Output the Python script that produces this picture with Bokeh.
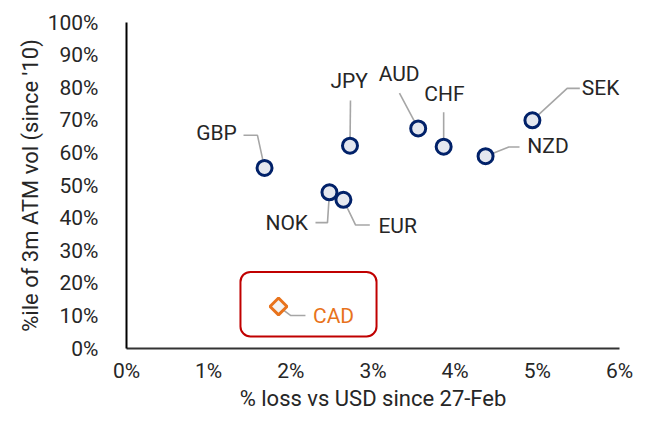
import math
from bokeh.plotting import figure
from bokeh.models import (Range1d, FixedTicker, PrintfTickFormatter, BoxAnnotation,
                          ColumnDataSource, LabelSet)
from bokeh.core.properties import value
from bokeh.embed import file_html
from bokeh.resources import INLINE

# ---- data (percent units) ----
currencies = ["GBP", "JPY", "AUD", "CHF", "NZD", "SEK", "NOK", "EUR"]
loss_pct = [1.68, 2.72, 3.55, 3.86, 4.37, 4.94, 2.47, 2.64]
vol_pctile = [55.4, 62.2, 67.5, 61.9, 59.0, 70.0, 47.9, 45.6]

highlight = ["CAD"]
hl_loss = [1.85]
hl_vol = [12.9]

x_ticks = [0, 1, 2, 3, 4, 5, 6]
y_ticks = [0, 10, 20, 30, 40, 50, 60, 70, 80, 90, 100]

# ---- label placement (data units): text centre, leader elbow, leader end ----
label_pos = {
    "GBP": (1.095, 66.1, 1.594, 65.4, 1.424, 65.4),
    "JPY": (2.71, 82.0, 2.726, 76.1, 2.726, 76.1),
    "AUD": (3.318, 84.1, 3.322, 78.3, 3.322, 78.3),
    "CHF": (3.87, 78.1, 3.86, 72.5, 3.86, 72.5),
    "NZD": (5.13, 62.1, 4.653, 61.8, 4.783, 61.8),
    "SEK": (5.77, 79.8, 5.363, 79.8, 5.517, 79.8),
    "NOK": (1.95, 38.5, 2.446, 38.6, 2.30, 38.6),
    "EUR": (3.30, 37.6, 2.787, 37.9, 2.961, 37.9),
    "CAD": (2.52, 10.1, 2.00, 10.1, 2.178, 10.1),
}

FONT = "Roboto"
TXT = "#262626"
NAVY = "#012169"
ORANGE = "#E8731C"
LEAD = "#A6A6A6"

p = figure(width=633, height=413, output_backend="svg", toolbar_location=None,
           x_range=Range1d(0, 6), y_range=Range1d(0, 100),
           min_border_left=126, min_border_right=14, min_border_top=22, min_border_bottom=64)
p.outline_line_color = None
p.grid.visible = False
p.background_fill_color = "white"
p.border_fill_color = "white"

for ax in (p.xaxis[0], p.yaxis[0]):
    ax.major_tick_line_color = None
    ax.minor_tick_line_color = None
    ax.axis_line_width = 2
    ax.major_label_text_font = FONT
    ax.major_label_text_font_size = "21px"
    ax.major_label_text_color = TXT
    ax.axis_label_text_font = FONT
    ax.axis_label_text_font_size = "22px"
    ax.axis_label_text_font_style = "normal"
    ax.axis_label_text_color = TXT

p.yaxis[0].axis_line_color = "#000000"
p.xaxis[0].axis_line_color = "#333333"
p.xaxis[0].ticker = FixedTicker(ticks=x_ticks)
p.yaxis[0].ticker = FixedTicker(ticks=y_ticks)
p.xaxis[0].formatter = PrintfTickFormatter(format="%d%%")
p.yaxis[0].formatter = PrintfTickFormatter(format="%d%%")
p.xaxis[0].axis_label = "% loss vs USD since 27-Feb"
p.yaxis[0].axis_label = "%ile of 3m ATM vol (since '10)"
p.xaxis[0].major_label_standoff = 4
p.yaxis[0].major_label_standoff = 22
p.xaxis[0].axis_label_standoff = 0
p.yaxis[0].axis_label_standoff = 2

# CAD box
p.add_layout(BoxAnnotation(left=1.387, right=3.043, bottom=3.7, top=23.5,
                           fill_color=None, fill_alpha=0, line_color="#C00000",
                           line_alpha=1.0, line_width=2, border_radius=10))

# leader lines
all_names = currencies + highlight
all_x = loss_pct + hl_loss
all_y = vol_pctile + hl_vol
xs, ys = [], []
for n, x0, y0 in zip(all_names, all_x, all_y):
    tx, ty, ex, ey, fx, fy = label_pos[n]
    xs.append([x0, ex, fx])
    ys.append([y0, ey, fy])
p.multi_line(xs, ys, line_color=LEAD, line_width=1.6)

# points
p.scatter(loss_pct, vol_pctile, size=15, marker="circle", line_color=NAVY,
          line_width=3, fill_color="#E4E7EF")
p.scatter(hl_loss, hl_vol, size=12, marker="square", angle=math.pi / 4,
          line_color=ORANGE, line_width=3, fill_color="#F3F3F3")

# labels
src = ColumnDataSource(dict(
    x=[label_pos[n][0] for n in currencies],
    y=[label_pos[n][1] for n in currencies],
    t=currencies))
p.add_layout(LabelSet(x="x", y="y", text="t", source=src, text_font=value(FONT),
                      text_font_size="21px", text_color=TXT, text_align="center",
                      text_baseline="middle"))
src2 = ColumnDataSource(dict(
    x=[label_pos[n][0] for n in highlight],
    y=[label_pos[n][1] for n in highlight],
    t=highlight))
p.add_layout(LabelSet(x="x", y="y", text="t", source=src2, text_font=value(FONT),
                      text_font_size="21px", text_color=ORANGE, text_align="center",
                      text_baseline="middle"))

open("out.html", "w").write(file_html(p, INLINE))
